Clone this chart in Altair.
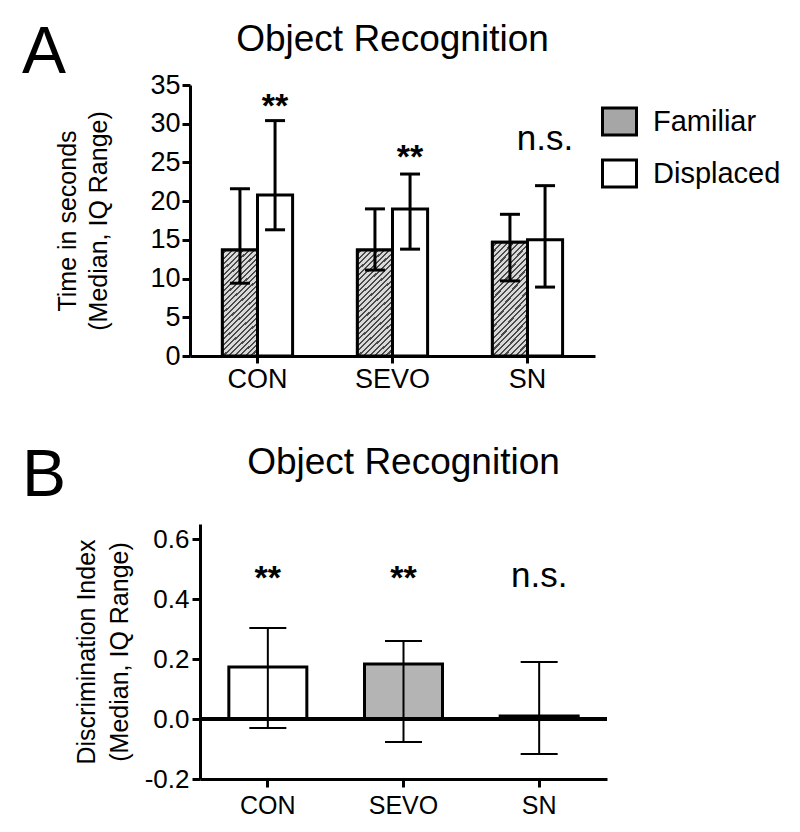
import altair as alt
import pandas as pd

# ---------------- data ----------------
groups = ["CON", "SEVO", "SN"]
series = ["Familiar", "Displaced"]

a_group = ["CON", "CON", "SEVO", "SEVO", "SN", "SN"]
a_series = ["Familiar", "Displaced", "Familiar", "Displaced", "Familiar", "Displaced"]
a_median = [13.7, 20.8, 13.7, 19.0, 14.7, 15.0]
a_q1 = [9.4, 16.3, 11.1, 13.8, 9.7, 8.9]
a_q3 = [21.6, 30.4, 19.0, 23.5, 18.3, 22.0]

a_sig_group = ["CON", "SEVO", "SN"]
a_sig_series = ["Displaced", "Displaced", "Displaced"]
a_sig_label = ["**", "**", "n.s."]
a_sig_y = [30.9, 24.3, 26.6]

b_group = ["CON", "SEVO", "SN"]
b_median = [0.173, 0.183, 0.01]
b_q1 = [-0.03, -0.077, -0.117]
b_q3 = [0.303, 0.26, 0.19]
b_sig_label = ["**", "**", "n.s."]
b_sig_y = [0.433, 0.433, 0.44]

panel_title = "Object Recognition"

dfA = pd.DataFrame({"group": a_group, "series": a_series, "median": a_median, "q1": a_q1, "q3": a_q3})
sigA = pd.DataFrame({"group": a_sig_group, "series": a_sig_series, "label": a_sig_label, "y": a_sig_y})
dfB = pd.DataFrame({"group": b_group, "median": b_median, "q1": b_q1, "q3": b_q3})
sigB = pd.DataFrame({"group": b_group, "label": b_sig_label, "y": b_sig_y})

FONT = "Liberation Sans"

# diagonal hatch as a striped gradient
light, dark = "#d9d9d9", "#4a4a4a"
n_str = 26
stops = []
for i in range(n_str):
    a = i / n_str
    b = (i + 0.62) / n_str
    c = (i + 1) / n_str
    stops += [alt.GradientStop(color=light, offset=a), alt.GradientStop(color=light, offset=b),
              alt.GradientStop(color=dark, offset=b), alt.GradientStop(color=dark, offset=min(c, 1.0))]
hatch = alt.LinearGradient(gradient="linear", stops=stops, x1=0, y1=0, x2=0.381, y2=1.197)


def text_layer(txt, size, x, y, align="left"):
    return alt.Chart(pd.DataFrame({"t": [txt]})).mark_text(
        fontSize=size, align=align, baseline="alphabetic", font=FONT, color="black").encode(
        text="t:N", x=alt.value(x), y=alt.value(y))


# ---------------- panel A ----------------
xA = alt.X("group:N", sort=groups,
           scale=alt.Scale(domain=groups, paddingInner=0.48, paddingOuter=0.24),
           axis=alt.Axis(title=None, labelAngle=0, labelFontSize=27, labelPadding=3,
                         tickSize=7, tickWidth=3, domainWidth=3))
xoffA = alt.XOffset("series:N", sort=series,
                    scale=alt.Scale(domain=series, paddingInner=0, paddingOuter=0))
axisA = alt.Axis(values=[0, 5, 10, 15, 20, 25, 30, 35],
                 title=["Time in seconds", "(Median, IQ Range)"],
                 titleFontSize=25, titleFontWeight="normal", titlePadding=38, titleLineHeight=31,
                 labelFontSize=27, labelPadding=2, tickSize=8, tickWidth=3, domainWidth=3)
scaleA = alt.Scale(domain=[0, 35], nice=False)


def yA(field):
    return alt.Y(f"{field}:Q", scale=scaleA, axis=axisA)


baseA = alt.Chart(dfA)
barsA = baseA.mark_bar(stroke="black", strokeWidth=3).encode(
    x=xA, xOffset=xoffA, y=yA("median"),
    fill=alt.Fill("series:N", sort=series,
                  scale=alt.Scale(domain=series, range=["#a6a6a6", "white"]),
                  legend=alt.Legend(title=None, orient="none", legendX=411, legendY=18,
                                    symbolType="M-1,-0.79H1V0.79H-1Z", symbolSize=1156,
                                    symbolStrokeColor="black", symbolStrokeWidth=3,
                                    labelFontSize=29, labelFont=FONT, labelColor="black",
                                    labelOffset=15, rowPadding=13, symbolOpacity=1)))
hatchA = baseA.transform_filter(alt.datum.series == "Familiar").mark_bar(
    fill=hatch, stroke="black", strokeWidth=3).encode(x=xA, xOffset=xoffA, y=yA("median"))
ruleA = baseA.mark_rule(strokeWidth=3, color="black").encode(
    x=xA, xOffset=xoffA, y=yA("q1"), y2="q3:Q")
capLoA = baseA.mark_tick(thickness=3, size=20, color="black", opacity=1).encode(
    x=xA, xOffset=xoffA, y=yA("q1"))
capHiA = baseA.mark_tick(thickness=3, size=20, color="black", opacity=1).encode(
    x=xA, xOffset=xoffA, y=yA("q3"))
starsA = alt.Chart(sigA).transform_filter(alt.datum.label == "**").mark_text(
    fontSize=34, fontWeight="bold", baseline="alphabetic", font=FONT, color="black").encode(
    x=xA, xOffset=xoffA, y=yA("y"), text="label:N")
nsA = alt.Chart(sigA).transform_filter(alt.datum.label == "n.s.").mark_text(
    fontSize=35, baseline="alphabetic", font=FONT, color="black").encode(
    x=xA, xOffset=xoffA, y=yA("y"), text="label:N")
letterA = text_layer("A", 66, -168, -12)
titleA = text_layer(panel_title, 37, 202.5, -34, align="center")

panelA = alt.layer(barsA, hatchA, ruleA, capLoA, capHiA, starsA, nsA, letterA, titleA).properties(
    width=405, height=271)

# ---------------- panel B ----------------
# panel B's plot sits 10px further right than panel A's
xB = alt.X("group:N", sort=groups,
           scale=alt.Scale(domain=groups, paddingInner=0.48, paddingOuter=0.24, range=[10, 417]),
           axis=alt.Axis(title=None, labelAngle=0, labelFontSize=25, labelPadding=6,
                         tickSize=8, tickWidth=3, domainWidth=3))
axisB = alt.Axis(values=[-0.2, 0, 0.2, 0.4, 0.6], format=".1f", offset=-10,
                 labelExpr="replace(datum.label, '\u2212', '-')",
                 title=["Discrimination Index", "(Median, IQ Range)"],
                 titleFontSize=25, titleFontWeight="normal", titlePadding=12, titleLineHeight=33,
                 labelFontSize=26, labelPadding=3, tickSize=8, tickWidth=3, domainWidth=3)
scaleB = alt.Scale(domain=[-0.2, 0.65], nice=False, zero=False)


def yB(field):
    return alt.Y(f"{field}:Q", scale=scaleB, axis=axisB)


baseB = alt.Chart(dfB)
barsB = baseB.mark_bar(size=78, stroke="black", strokeWidth=3).encode(
    x=xB, y=yB("median"), y2=alt.datum(0),
    fill=alt.condition(alt.datum.group == "SEVO", alt.value("#b4b4b4"), alt.value("white")))
zeroB = baseB.transform_calculate(z="0").mark_rule(strokeWidth=4, color="black").encode(
    y=yB("z"), x=alt.value(10), x2=alt.value(417))
ruleB = baseB.mark_rule(strokeWidth=2, color="black").encode(x=xB, y=yB("q1"), y2="q3:Q")
capLoB = baseB.mark_tick(thickness=2, size=37, color="black", opacity=1).encode(x=xB, y=yB("q1"))
capHiB = baseB.mark_tick(thickness=2, size=37, color="black", opacity=1).encode(x=xB, y=yB("q3"))
starsB = alt.Chart(sigB).transform_filter(alt.datum.label == "**").mark_text(
    fontSize=34, fontWeight="bold", baseline="alphabetic", font=FONT, color="black").encode(
    x=xB, y=yB("y"), text="label:N")
nsB = alt.Chart(sigB).transform_filter(alt.datum.label == "n.s.").mark_text(
    fontSize=35, baseline="alphabetic", font=FONT, color="black").encode(
    x=xB, y=yB("y"), text="label:N")
letterB = text_layer("B", 66, -168, -28)
titleB = text_layer(panel_title, 37, 213.5, -50, align="center")

panelB = alt.layer(barsB, ruleB, capLoB, capHiB, zeroB, starsB, nsB, letterB, titleB).properties(
    width=417, height=255)

chart = alt.ConcatChart(concat=[panelA, panelB], columns=1, spacing=51).properties(
    padding={"left": 14, "top": 12, "right": 5, "bottom": 0}).configure_view(
    stroke=None).configure_axis(
    grid=False, labelFont=FONT, titleFont=FONT, labelColor="black", titleColor="black",
    domainColor="black", tickColor="black")

chart.save("out.html", embed_options={"renderer": "svg", "actions": False})
